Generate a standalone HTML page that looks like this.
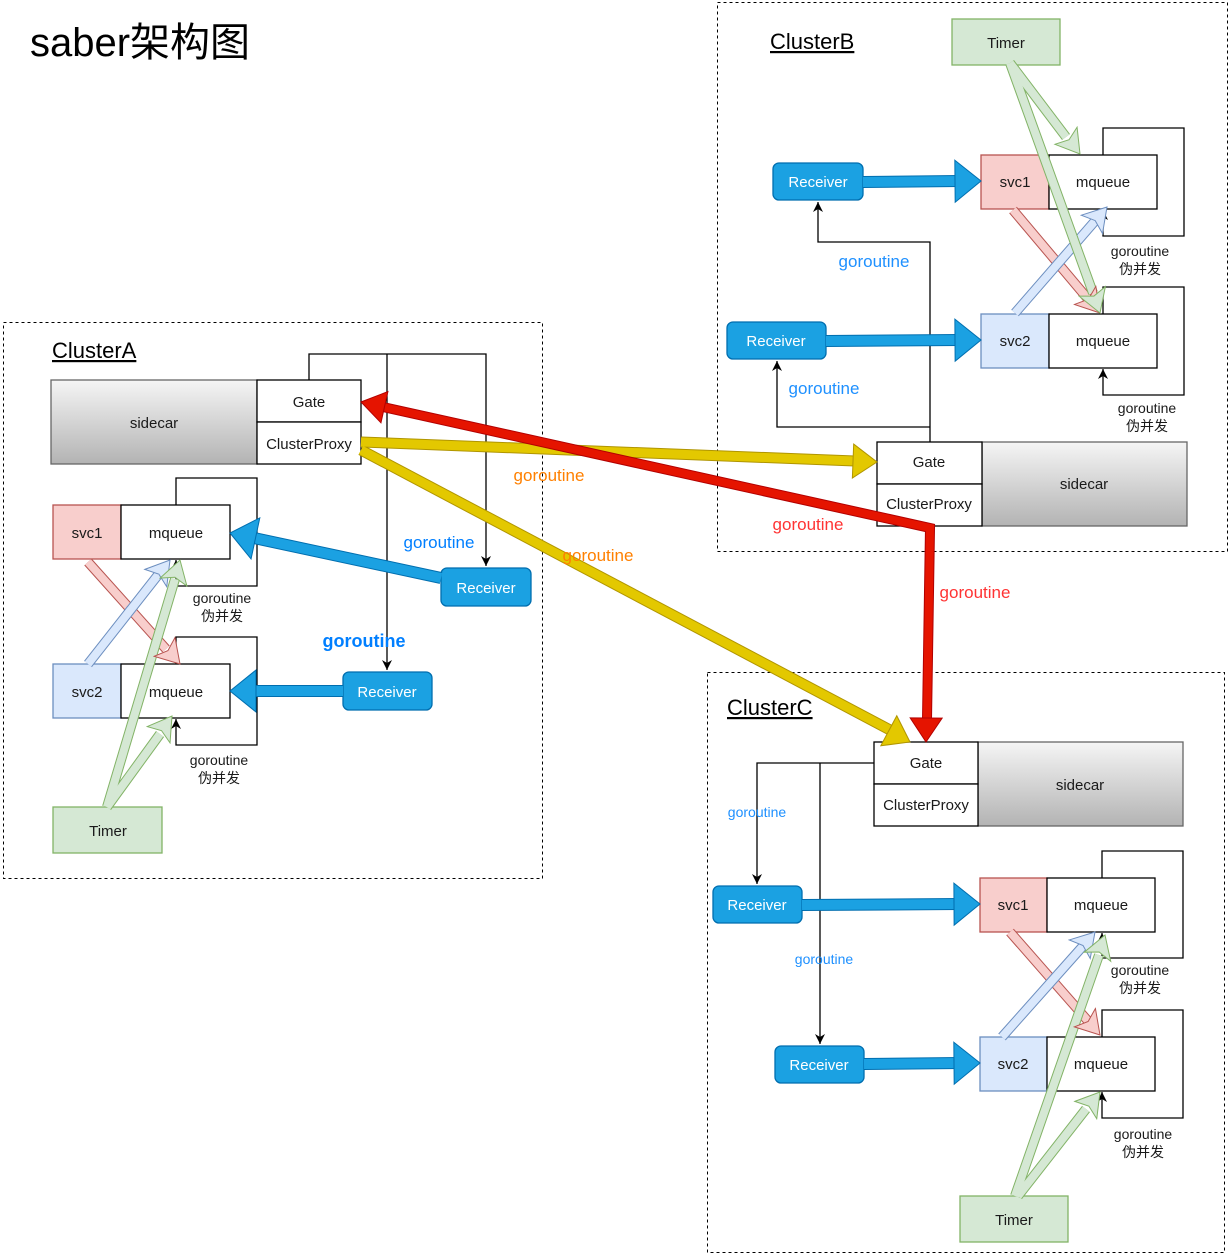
<!DOCTYPE html>
<html><head><meta charset="utf-8"><style>
html,body{margin:0;padding:0;background:#fff;}
svg{display:block;font-family:"Liberation Sans","Noto Sans CJK SC",sans-serif;}
</style></head><body>
<svg width="1232" height="1259" viewBox="0 0 1232 1259" xmlns="http://www.w3.org/2000/svg">
<defs>
<linearGradient id="sg" x1="0" y1="0" x2="0" y2="1"><stop offset="0" stop-color="#f5f5f5"/><stop offset="1" stop-color="#b3b3b3"/></linearGradient>
<marker id="mk" markerUnits="userSpaceOnUse" markerWidth="12" markerHeight="12" refX="10" refY="6" orient="auto" viewBox="0 0 12 12"><path d="M0,1 L10,6 L0,11 L3,6 Z" fill="#000"/></marker>
<marker id="hb" markerUnits="userSpaceOnUse" markerWidth="30" markerHeight="46" refX="27" refY="23" orient="auto" viewBox="0 0 30 46"><path d="M1,2 L27,23 L1,44 Z" fill="#1ba1e2" stroke="#006eaf" stroke-width="1"/></marker>
<marker id="hr" markerUnits="userSpaceOnUse" markerWidth="28" markerHeight="36" refX="25" refY="18" orient="auto" viewBox="0 0 28 36"><path d="M1,2 L25,18 L1,34 Z" fill="#e51400" stroke="#b20000" stroke-width="1"/></marker>
<marker id="hy" markerUnits="userSpaceOnUse" markerWidth="28" markerHeight="38" refX="25" refY="19" orient="auto" viewBox="0 0 28 38"><path d="M1,2 L25,19 L1,36 Z" fill="#e3c800" stroke="#b09500" stroke-width="1"/></marker>
<marker id="hg" markerUnits="userSpaceOnUse" markerWidth="26" markerHeight="30" refX="24" refY="15" orient="auto" viewBox="0 0 26 30"><path d="M1,1 L24,15 L1,29 L6,15 Z" fill="#d5e8d4" stroke="#82b366" stroke-width="1"/></marker>
<marker id="hp" markerUnits="userSpaceOnUse" markerWidth="26" markerHeight="30" refX="24" refY="15" orient="auto" viewBox="0 0 26 30"><path d="M1,1 L24,15 L1,29 L6,15 Z" fill="#f8cecc" stroke="#b85450" stroke-width="1"/></marker>
<marker id="hl" markerUnits="userSpaceOnUse" markerWidth="26" markerHeight="30" refX="24" refY="15" orient="auto" viewBox="0 0 26 30"><path d="M1,1 L24,15 L1,29 L6,15 Z" fill="#dae8fc" stroke="#6c8ebf" stroke-width="1"/></marker>
</defs>

<text x="30" y="56" font-size="40" fill="#000">saber架构图</text>

<g fill="none" stroke="#000" stroke-dasharray="3,3" stroke-width="1">
<rect x="3.5" y="322.5" width="539" height="556"/>
<rect x="717.5" y="2.5" width="510" height="549"/>
<rect x="707.5" y="672.5" width="517" height="580"/>
</g>
<g font-size="22" fill="#000" text-decoration="underline">
<text x="52" y="358">ClusterA</text>
<text x="770" y="49">ClusterB</text>
<text x="727" y="715">ClusterC</text>
</g>

<g fill="none" stroke="#000" stroke-width="1.3">
<polyline points="309,380 309,354 486,354 486,566" marker-end="url(#mk)"/>
<polyline points="387,354 387,670" marker-end="url(#mk)"/>
<polyline points="176,505 176,478 257,478 257,586 176,586 176,560" marker-end="url(#mk)"/>
<polyline points="176,664 176,637 257,637 257,745 176,745 176,719" marker-end="url(#mk)"/>
<polyline points="930,442 930,242 818,242 818,202" marker-end="url(#mk)"/>
<polyline points="930,427 777,427 777,361" marker-end="url(#mk)"/>
<polyline points="1103,155 1103,128 1184,128 1184,236 1103,236 1103,210" marker-end="url(#mk)"/>
<polyline points="1103,314 1103,287 1184,287 1184,395 1103,395 1103,369" marker-end="url(#mk)"/>
<polyline points="874,763 757,763 757,884" marker-end="url(#mk)"/>
<polyline points="820,763 820,1044" marker-end="url(#mk)"/>
<polyline points="1102,878 1102,851 1183,851 1183,958 1102,958 1102,933" marker-end="url(#mk)"/>
<polyline points="1102,1037 1102,1010 1183,1010 1183,1118 1102,1118 1102,1092" marker-end="url(#mk)"/>
</g>

<g stroke-width="1.3">
<rect x="51" y="380" width="206" height="84" fill="url(#sg)" stroke="#666"/>
<rect x="257" y="380" width="104" height="42" fill="#fff" stroke="#000"/>
<rect x="257" y="422" width="104" height="42" fill="#fff" stroke="#000"/>
<rect x="53" y="505" width="68" height="54" fill="#f8cecc" stroke="#b85450"/>
<rect x="121" y="505" width="109" height="54" fill="#fff" stroke="#000"/>
<rect x="53" y="664" width="68" height="54" fill="#dae8fc" stroke="#6c8ebf"/>
<rect x="121" y="664" width="109" height="54" fill="#fff" stroke="#000"/>
<rect x="53" y="807" width="109" height="46" fill="#d5e8d4" stroke="#82b366"/>
<rect x="441" y="568" width="90" height="38" rx="6" fill="#1ba1e2" stroke="#006eaf"/>
<rect x="343" y="672" width="89" height="38" rx="6" fill="#1ba1e2" stroke="#006eaf"/>
<rect x="952" y="19" width="108" height="46" fill="#d5e8d4" stroke="#82b366"/>
<rect x="773" y="163" width="90" height="37" rx="6" fill="#1ba1e2" stroke="#006eaf"/>
<rect x="727" y="322" width="99" height="37" rx="6" fill="#1ba1e2" stroke="#006eaf"/>
<rect x="981" y="155" width="68" height="54" fill="#f8cecc" stroke="#b85450"/>
<rect x="1049" y="155" width="108" height="54" fill="#fff" stroke="#000"/>
<rect x="981" y="314" width="68" height="54" fill="#dae8fc" stroke="#6c8ebf"/>
<rect x="1049" y="314" width="108" height="54" fill="#fff" stroke="#000"/>
<rect x="982" y="442" width="205" height="84" fill="url(#sg)" stroke="#666"/>
<rect x="877" y="442" width="105" height="42" fill="#fff" stroke="#000"/>
<rect x="877" y="484" width="105" height="42" fill="#fff" stroke="#000"/>
<rect x="978" y="742" width="205" height="84" fill="url(#sg)" stroke="#666"/>
<rect x="874" y="742" width="104" height="42" fill="#fff" stroke="#000"/>
<rect x="874" y="784" width="104" height="42" fill="#fff" stroke="#000"/>
<rect x="713" y="886" width="89" height="37" rx="6" fill="#1ba1e2" stroke="#006eaf"/>
<rect x="775" y="1046" width="89" height="37" rx="6" fill="#1ba1e2" stroke="#006eaf"/>
<rect x="980" y="878" width="67" height="54" fill="#f8cecc" stroke="#b85450"/>
<rect x="1047" y="878" width="108" height="54" fill="#fff" stroke="#000"/>
<rect x="980" y="1037" width="67" height="54" fill="#dae8fc" stroke="#6c8ebf"/>
<rect x="1047" y="1037" width="108" height="54" fill="#fff" stroke="#000"/>
<rect x="960" y="1196" width="108" height="46" fill="#d5e8d4" stroke="#82b366"/>
</g>

<g font-size="15" fill="#1a1a1a" text-anchor="middle">
<text x="154" y="428">sidecar</text>
<text x="309" y="407">Gate</text>
<text x="309" y="449">ClusterProxy</text>
<text x="87" y="538">svc1</text>
<text x="176" y="538">mqueue</text>
<text x="87" y="697">svc2</text>
<text x="176" y="697">mqueue</text>
<text x="108" y="836">Timer</text>
<text x="1006" y="48">Timer</text>
<text x="1015" y="187">svc1</text>
<text x="1103" y="187">mqueue</text>
<text x="1015" y="346">svc2</text>
<text x="1103" y="346">mqueue</text>
<text x="1084" y="489">sidecar</text>
<text x="929" y="467">Gate</text>
<text x="929" y="509">ClusterProxy</text>
<text x="1080" y="790">sidecar</text>
<text x="926" y="768">Gate</text>
<text x="926" y="810">ClusterProxy</text>
<text x="1013" y="910">svc1</text>
<text x="1101" y="910">mqueue</text>
<text x="1013" y="1069">svc2</text>
<text x="1101" y="1069">mqueue</text>
<text x="1014" y="1225">Timer</text>
</g>
<g font-size="15" fill="#fff" text-anchor="middle">
<text x="486" y="593">Receiver</text>
<text x="387" y="697">Receiver</text>
<text x="818" y="187">Receiver</text>
<text x="776" y="346">Receiver</text>
<text x="757" y="910">Receiver</text>
<text x="819" y="1070">Receiver</text>
</g>
<g font-size="14" fill="#1a1a1a" text-anchor="middle">
<text x="222" y="603">goroutine</text><text x="222" y="621">伪并发</text>
<text x="219" y="765">goroutine</text><text x="219" y="783">伪并发</text>
<text x="1140" y="256">goroutine</text><text x="1140" y="274">伪并发</text>
<text x="1147" y="413">goroutine</text><text x="1147" y="431">伪并发</text>
<text x="1140" y="975">goroutine</text><text x="1140" y="993">伪并发</text>
<text x="1143" y="1139">goroutine</text><text x="1143" y="1157">伪并发</text>
</g>

<g fill="none">
<g stroke="#006eaf" stroke-width="12"><line x1="441" y1="578" x2="240" y2="535"/><line x1="343" y1="691" x2="240" y2="691"/><line x1="863" y1="182" x2="960" y2="181"/><line x1="826" y1="341" x2="960" y2="340"/><line x1="802" y1="905" x2="960" y2="904"/><line x1="864" y1="1064" x2="960" y2="1063"/></g>
<g stroke="#1ba1e2" stroke-width="10"><line x1="441" y1="578" x2="240" y2="535"/><line x1="343" y1="691" x2="240" y2="691"/><line x1="863" y1="182" x2="960" y2="181"/><line x1="826" y1="341" x2="960" y2="340"/><line x1="802" y1="905" x2="960" y2="904"/><line x1="864" y1="1064" x2="960" y2="1063"/></g>
<g stroke="none"><line x1="441" y1="578" x2="230" y2="533" marker-end="url(#hb)"/><line x1="343" y1="691" x2="230" y2="691" marker-end="url(#hb)"/><line x1="863" y1="182" x2="981" y2="181" marker-end="url(#hb)"/><line x1="826" y1="341" x2="981" y2="340" marker-end="url(#hb)"/><line x1="802" y1="905" x2="980" y2="904" marker-end="url(#hb)"/><line x1="864" y1="1064" x2="980" y2="1063" marker-end="url(#hb)"/></g>
</g>

<g fill="none" stroke-linecap="butt">
<g stroke="#b85450" stroke-width="10"><line x1="88" y1="562" x2="166" y2="649"/><line x1="1013" y1="210" x2="1088" y2="299"/><line x1="1010" y1="932" x2="1088" y2="1021"/></g>
<g stroke="#f8cecc" stroke-width="8"><line x1="88" y1="562" x2="166" y2="649"/><line x1="1013" y1="210" x2="1088" y2="299"/><line x1="1010" y1="932" x2="1088" y2="1021"/></g>
<g stroke="#6c8ebf" stroke-width="10"><line x1="88" y1="664" x2="158" y2="575"/><line x1="1015" y1="313" x2="1095" y2="221"/><line x1="1002" y1="1037" x2="1083" y2="946"/></g>
<g stroke="#dae8fc" stroke-width="8"><line x1="88" y1="664" x2="158" y2="575"/><line x1="1015" y1="313" x2="1095" y2="221"/><line x1="1002" y1="1037" x2="1083" y2="946"/></g>
<g stroke="#82b366" stroke-width="10"><line x1="107" y1="807" x2="175" y2="579"/><line x1="107" y1="807" x2="160" y2="734"/><line x1="1010" y1="63" x2="1066" y2="137"/><line x1="1010" y1="63" x2="1093" y2="293"/><line x1="1015" y1="1196" x2="1099" y2="955"/><line x1="1018" y1="1196" x2="1086" y2="1109"/></g>
<g stroke="#d5e8d4" stroke-width="8"><line x1="107" y1="807" x2="175" y2="579"/><line x1="107" y1="807" x2="160" y2="734"/><line x1="1010" y1="63" x2="1066" y2="137"/><line x1="1010" y1="63" x2="1093" y2="293"/><line x1="1015" y1="1196" x2="1099" y2="955"/><line x1="1018" y1="1196" x2="1086" y2="1109"/></g>
<g stroke="none">
<line x1="88" y1="562" x2="180" y2="664" marker-end="url(#hp)"/><line x1="1013" y1="210" x2="1100" y2="313" marker-end="url(#hp)"/><line x1="1010" y1="932" x2="1100" y2="1035" marker-end="url(#hp)"/>
<line x1="88" y1="664" x2="170" y2="560" marker-end="url(#hl)"/><line x1="1015" y1="313" x2="1107" y2="207" marker-end="url(#hl)"/><line x1="1002" y1="1037" x2="1095" y2="932" marker-end="url(#hl)"/>
<line x1="107" y1="807" x2="180" y2="560" marker-end="url(#hg)"/><line x1="107" y1="807" x2="172" y2="716" marker-end="url(#hg)"/><line x1="1010" y1="63" x2="1080" y2="154" marker-end="url(#hg)"/><line x1="1010" y1="63" x2="1100" y2="313" marker-end="url(#hg)"/><line x1="1015" y1="1196" x2="1105" y2="935" marker-end="url(#hg)"/><line x1="1018" y1="1196" x2="1100" y2="1092" marker-end="url(#hg)"/>
</g>
</g>

<g fill="none" stroke-linejoin="miter">
<g stroke="#b09500" stroke-width="11"><line x1="361" y1="442" x2="855" y2="461"/><line x1="361" y1="450" x2="892" y2="731"/></g>
<g stroke="#e3c800" stroke-width="9"><line x1="361" y1="442" x2="855" y2="461"/><line x1="361" y1="450" x2="892" y2="731"/></g>
<g stroke="none"><line x1="361" y1="442" x2="877" y2="462" marker-end="url(#hy)"/><line x1="361" y1="450" x2="910" y2="742" marker-end="url(#hy)"/></g>
<polyline points="383,407 930,528 927,720" stroke="#b20000" stroke-width="10"/>
<polyline points="383,407 930,528 927,720" stroke="#e51400" stroke-width="8"/>
<line x1="500" y1="433" x2="361" y2="402" stroke="none" marker-end="url(#hr)"/>
<line x1="927" y1="600" x2="926" y2="742" stroke="none" marker-end="url(#hr)"/>
</g>

<g font-size="17">
<text x="549" y="481" fill="#ff8000" text-anchor="middle">goroutine</text>
<text x="598" y="561" fill="#ff8000" text-anchor="middle">goroutine</text>
<text x="808" y="530" fill="#ff3333" text-anchor="middle">goroutine</text>
<text x="975" y="598" fill="#ff3333" text-anchor="middle">goroutine</text>
<text x="439" y="548" fill="#007fff" text-anchor="middle">goroutine</text>
<text x="364" y="647" fill="#007fff" text-anchor="middle" font-weight="bold" font-size="18">goroutine</text>
<text x="874" y="267" fill="#1e90ff" text-anchor="middle">goroutine</text>
<text x="824" y="394" fill="#1e90ff" text-anchor="middle">goroutine</text>
</g>
<g font-size="14" fill="#1e90ff" text-anchor="middle">
<text x="757" y="817">goroutine</text>
<text x="824" y="964">goroutine</text>
</g>
</svg>
</body></html>
